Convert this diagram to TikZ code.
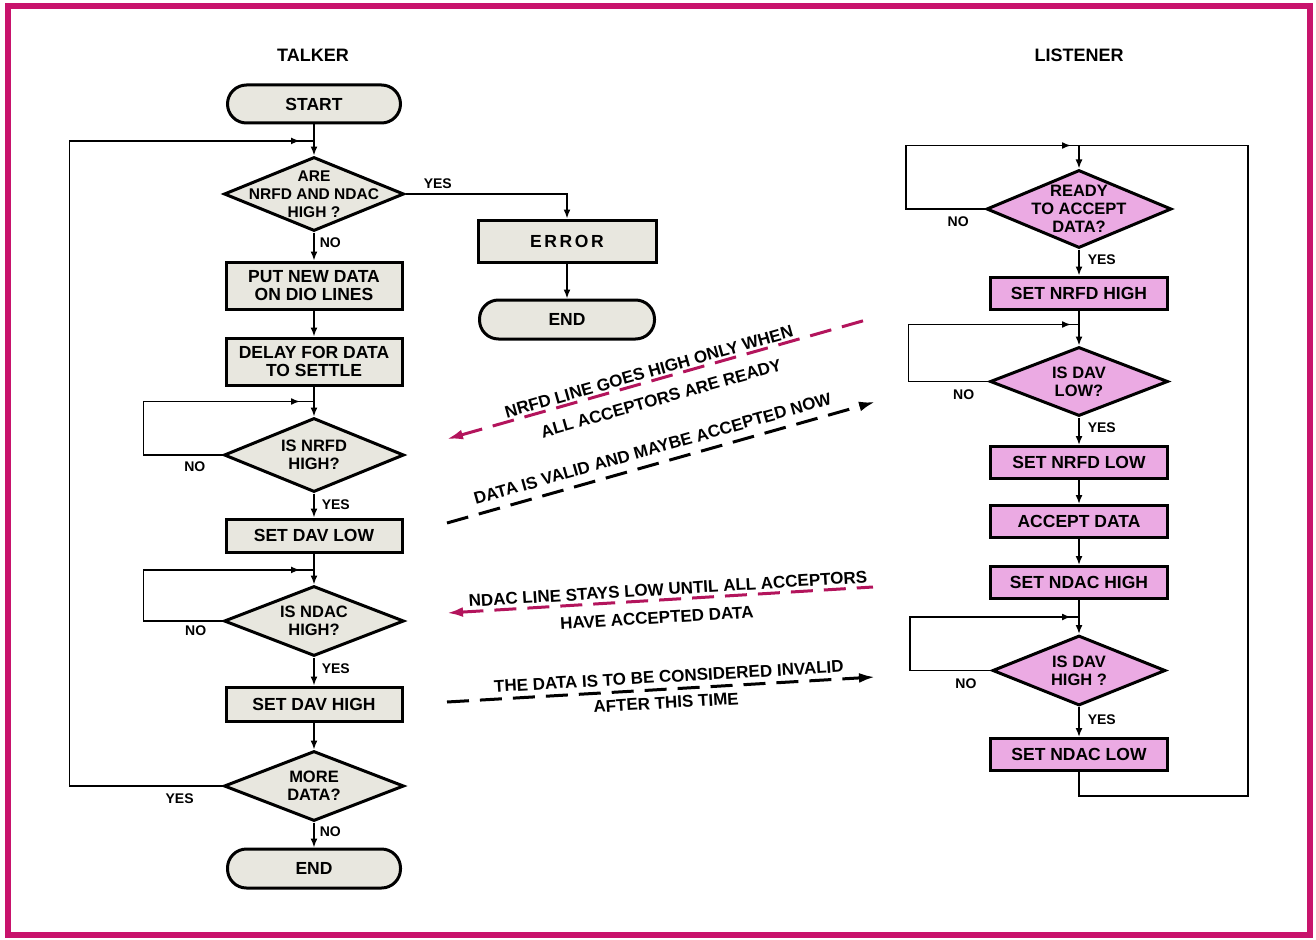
\documentclass[tikz,border=0pt]{standalone}
\usepackage{fontspec}
\setmainfont{Liberation Sans}
\usetikzlibrary{positioning,arrows.meta,shapes.geometric,calc,decorations.markings}
\definecolor{tgrey}{HTML}{E8E7DF}
\definecolor{lpink}{HTML}{EBAAE3}
\definecolor{sigmag}{HTML}{B3145C}
\definecolor{framec}{HTML}{C8136C}

\begin{document}
\begin{tikzpicture}[
  x=1pt, y=1pt,
  >={Latex[length=9pt,width=7pt]},
  line/.style={line width=1.6pt},
  arr/.style={line, ->},
  loopin/.style={postaction={decorate}, decoration={markings, mark=at position #1 with {\arrow{>}}}},
  box/.style={draw, line width=3pt, fill=tgrey, align=center, minimum width=176pt, minimum height=33pt, inner sep=2pt, font=\fontsize{17.5}{17.5}\selectfont\bfseries},
  lbox/.style={box, fill=lpink, minimum width=177pt, minimum height=32pt},
  term/.style={box, rounded corners=19pt, minimum width=173pt, minimum height=38pt},
  dec/.style={box, diamond, aspect=2.3, inner sep=-18pt, minimum width=180pt, minimum height=74pt, font=\fontsize{16.5}{18}\selectfont\bfseries},
  ldec/.style={dec, fill=lpink},
  lbl/.style={font=\fontsize{14}{15}\selectfont\bfseries, inner sep=2pt},
  ttl/.style={font=\fontsize{18}{19}\selectfont\bfseries},
  note/.style={font=\fontsize{17}{18}\selectfont\bfseries, sloped, inner sep=2pt},
  sigm/.style={line width=3pt, draw=sigmag, dash pattern=on 22pt off 11pt, {Latex[length=16pt,width=10pt]}-},
  sigk/.style={line width=3pt, draw=black, dash pattern=on 22pt off 11pt, -{Latex[length=16pt,width=10pt]}},
  frame/.style={line width=6pt, draw=framec}
]
  \useasboundingbox (0,0) rectangle (1316,-939);
  \draw[frame] (8,-6) rectangle (1310,-935);

  % talker
  \node[ttl] (talker) at (313,-55) {TALKER};
  \node[term] (start) at (314,-104) {START};
  \node[dec, below=31pt of start, font=\fontsize{15.5}{18}\selectfont\bfseries] (q1) {ARE\\NRFD AND NDAC\\HIGH ?};
  \node[box, below=28pt of q1, minimum height=47pt] (put) {PUT NEW DATA\\ON DIO LINES};
  \node[box, below=26pt of put, minimum height=47pt] (delay) {DELAY FOR DATA\\TO SETTLE};
  \node[dec, below=30pt of delay] (q2) {IS NRFD\\HIGH?};
  \node[box, below=24pt of q2] (davlow) {SET DAV LOW};
  \node[dec, below=31pt of davlow, minimum height=70pt] (q3) {IS NDAC\\HIGH?};
  \node[box, below=28pt of q3, minimum height=34pt] (davhigh) {SET DAV HIGH};
  \node[dec, below=27pt of davhigh, minimum height=70pt] (q4) {MORE\\DATA?};
  \node[term, below=25pt of q4, minimum height=39pt] (tend) {END};

  \node[box, minimum width=178pt, minimum height=42pt] (error) at (567,-241) {\addfontfeature{LetterSpace=15}ERROR};
  \node[term, below=35pt of error, minimum width=175pt, minimum height=39pt] (eend) {END};

  \coordinate (jt1) at ($(start.south)!.53!(q1.north)$);
  \coordinate (jt2) at ($(delay.south)!.5!(q2.north)$);
  \coordinate (jt3) at ($(davlow.south)!.53!(q3.north)$);

  \draw[arr] (start) -- (q1);
  \draw[arr] (q1) -- node[lbl, right=3pt, pos=.35] (n1) {NO} (put);
  \draw[arr] (put) -- (delay);
  \draw[arr] (delay) -- (q2);
  \draw[arr] (q2) -- node[lbl, right=5pt, pos=.45] (y2) {YES} (davlow);
  \draw[arr] (davlow) -- (q3);
  \draw[arr] (q3) -- node[lbl, right=5pt, pos=.41] (y3) {YES} (davhigh);
  \draw[arr] (davhigh) -- (q4);
  \draw[arr] (q4) -- node[lbl, right=3pt, pos=.38] (n4) {NO} (tend);
  \draw[arr] (q1.east) -| node[lbl, above=3pt, pos=.1] (y1) {YES} (error);
  \draw[arr] (error) -- (eend);
  % loops back
  \draw[line, loopin=-14pt] (q2.west) -- node[lbl, below=4pt, pos=.35] (n2) {NO} ++(-79,0) |- (jt2);
  \draw[line, loopin=-14pt] (q3.west) -- node[lbl, below=2pt, pos=.34] (n3) {NO} ++(-79,0) |- (jt3);
  \draw[line, loopin=-14pt] (q4.west) -- node[lbl, below=5pt, pos=.28] (y4) {YES} ++(-153,0) |- (jt1);

  % listener
  \node[ttl] (listener) at (1079,-55) {LISTENER};
  \node[ldec, minimum width=185pt, minimum height=78pt] (r1) at (1079,-209) {READY\\TO ACCEPT\\DATA?};
  \node[lbox, below=26pt of r1] (nrfdhi) {SET NRFD HIGH};
  \node[ldec, below=35pt of nrfdhi, minimum width=178pt, minimum height=69pt] (r2) {IS DAV\\LOW?};
  \node[lbox, below=27.5pt of r2] (nrfdlo) {SET NRFD LOW};
  \node[lbox, below=24pt of nrfdlo] (accept) {ACCEPT DATA};
  \node[lbox, below=26pt of accept] (ndachi) {SET NDAC HIGH};
  \node[ldec, below=34pt of ndachi, minimum width=173pt, minimum height=70pt] (r3) {IS DAV\\HIGH ?};
  \node[lbox, below=30pt of r3] (ndaclo) {SET NDAC LOW};

  \coordinate (jr1) at ($(r1.north)+(0,23)$);
  \coordinate (jr2) at ($(nrfdhi.south)!.4!(r2.north)$);
  \coordinate (jr3) at ($(ndachi.south)!.5!(r3.north)$);

  \draw[arr] (jr1) -- (r1);
  \draw[arr] (r1) -- node[lbl, right=6pt, pos=.4] (y5) {YES} (nrfdhi);
  \draw[arr] (nrfdhi) -- (r2);
  \draw[arr] (r2) -- node[lbl, right=6pt, pos=.38] (y6) {YES} (nrfdlo);
  \draw[arr] (nrfdlo) -- (accept);
  \draw[arr] (accept) -- (ndachi);
  \draw[arr] (ndachi) -- (r3);
  \draw[arr] (r3) -- node[lbl, right=6pt, pos=.43] (y7) {YES} (ndaclo);
  \draw[line, loopin=-8pt] (r1.west) -- node[lbl, below=5pt, pos=.34] (n5) {NO} ++(-79,0) |- (jr1);
  \draw[line, loopin=-8pt] (r2.west) -- node[lbl, below=5pt, pos=.31] (n6) {NO} ++(-80,0) |- (jr2);
  \draw[line, loopin=-8pt] (r3.west) -- node[lbl, below=5pt, pos=.31] (n7) {NO} ++(-81,0) |- (jr3);
  \draw[line] (ndaclo.south) -- ++(0,-24) -| ([xshift=169pt]jr1) -- (jr1);

  % handshake signals
  \coordinate (a1l) at (447,-439);
  \coordinate (a1r) at (873,-318);
  \coordinate (a2l) at (447,-523);
  \coordinate (a2r) at (875,-402);
  \coordinate (a3l) at (447,-613);
  \coordinate (a3r) at (873,-587);
  \coordinate (a4l) at (447,-702);
  \coordinate (a4r) at (875,-677);
  \draw[sigm] (a1l) -- node[note, above=0pt, pos=.48] (t1) {NRFD LINE GOES HIGH ONLY WHEN}
                       node[note, below=10pt, pos=.49] (t2) {ALL ACCEPTORS ARE READY} (a1r);
  \draw[sigk] (a2l) -- node[note, above=6pt, pos=.49] (t3) {DATA IS VALID AND MAYBE ACCEPTED NOW} (a2r);
  \draw[sigm] (a3l) -- node[note, above=1pt, pos=.52] (t4) {NDAC LINE STAYS LOW UNTIL ALL ACCEPTORS}
                       node[note, below=8pt, pos=.49] (t5) {HAVE ACCEPTED DATA} (a3r);
  \draw[sigk] (a4l) -- node[note, above=3pt, pos=.52] (t6) {THE DATA IS TO BE CONSIDERED INVALID}
                       node[note, below=4pt, pos=.51] (t7) {AFTER THIS TIME} (a4r);
\end{tikzpicture}
\end{document}
